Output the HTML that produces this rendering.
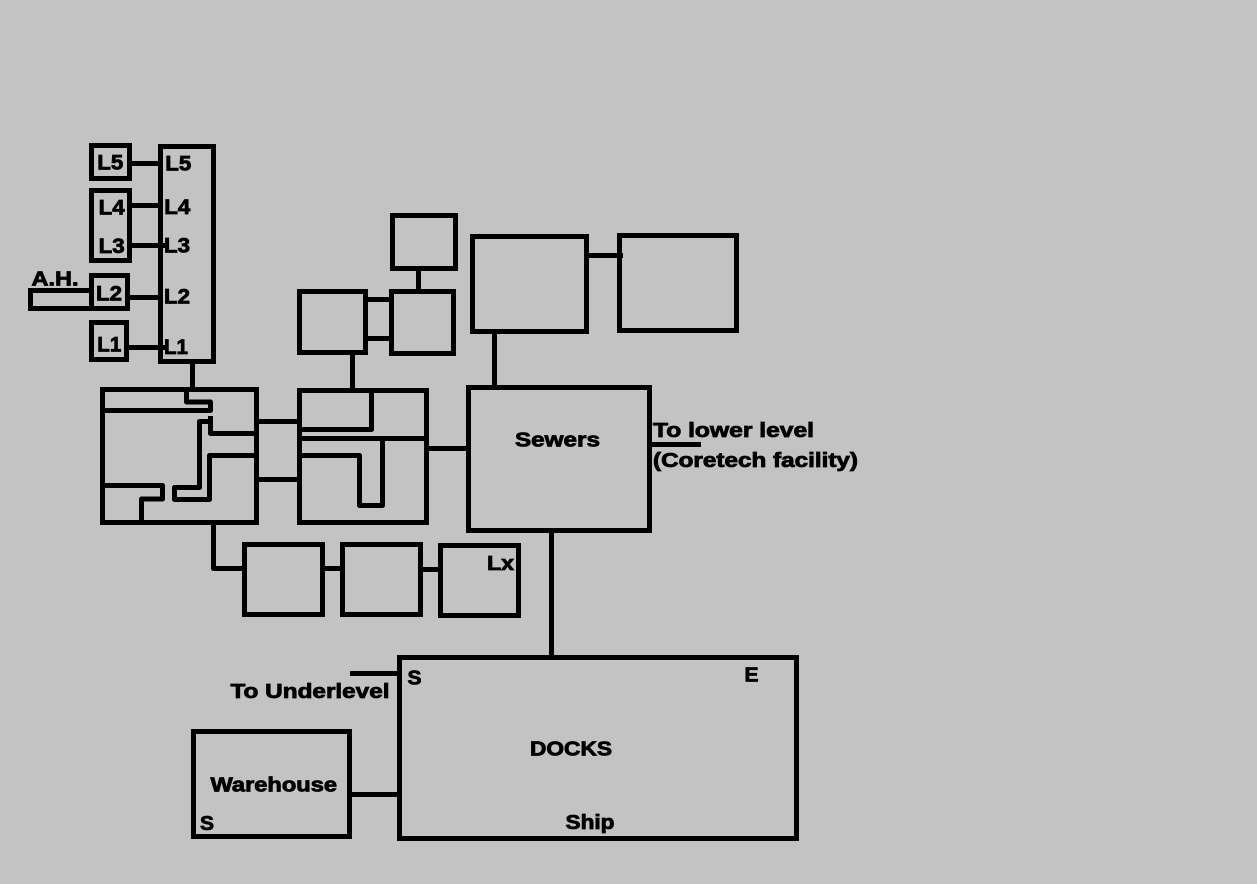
<!DOCTYPE html>
<html>
<head>
<meta charset="utf-8">
<style>
html,body{margin:0;padding:0;background:#c3c3c3;}
svg{display:block;}
rect,path{fill:none;stroke:#000;stroke-width:5;}
path{stroke-linejoin:round;}
text{font-family:"Liberation Sans",sans-serif;font-weight:bold;font-size:20px;fill:#000;stroke:#000;stroke-width:.8;}
.l{font-size:21px;}
</style>
</head>
<body>
<svg width="1257" height="884" viewBox="0 0 1257 884" xmlns="http://www.w3.org/2000/svg">
<rect x="0" y="0" width="1257" height="884" style="fill:#c3c3c3;stroke:none"/>
<!-- level stack -->
<rect x="91.5" y="145.5" width="38" height="33"/>
<rect x="91.5" y="190.5" width="38" height="70"/>
<rect x="91.5" y="275.5" width="36" height="33"/>
<rect x="30.5" y="290.5" width="61" height="18"/>
<rect x="91.5" y="322.5" width="35" height="37"/>
<rect x="160.5" y="146.5" width="53" height="215"/>
<path d="M129 163.5H160M129 205.5H160M129 245.5H165M127 297.5H160M126 347.5H165"/>
<path d="M192.5 361V389"/>
<!-- left complex -->
<rect x="102.5" y="389.5" width="154" height="133"/>
<path d="M102 410.5H210.5V402H186.5V389"/>
<path d="M210.5 416V433.5H256"/>
<path d="M210.5 421.5H199.5V487.5H174.5V499.5H209.5V455.5H256"/>
<path d="M102 485.5H162.5V499H141.5V522"/>
<!-- middle complex -->
<rect x="299.5" y="390.5" width="127" height="132"/>
<path d="M371.5 390V429.5H299"/>
<path d="M299 438.5H426"/>
<path d="M299 455.5H359.5V505.5H382.5V441"/>
<path d="M256 421.5H299M259 479.5H299"/>
<path d="M352.5 353V390"/>
<path d="M426 448.5H468"/>
<!-- upper boxes -->
<rect x="392.5" y="215.5" width="63" height="53"/>
<rect x="299.5" y="291.5" width="66" height="61"/>
<rect x="391.5" y="291.5" width="62" height="62"/>
<path d="M418.5 268V292M366 299.5H391M366 338.5H391"/>
<rect x="472.5" y="236.5" width="114" height="95"/>
<rect x="619.5" y="235.5" width="117" height="95"/>
<path d="M587 255.5H623"/>
<path d="M494.5 331V388"/>
<!-- sewers -->
<rect x="468.5" y="387.5" width="181" height="143"/>
<path d="M650 444.5H701"/>
<path d="M551.5 531V658"/>
<!-- lower row -->
<rect x="244.5" y="544.5" width="78" height="70"/>
<rect x="342.5" y="544.5" width="78" height="70"/>
<rect x="440.5" y="545.5" width="78" height="70"/>
<path d="M213.5 522V568.5H244"/>
<path d="M323 568.5H342M421 569.5H440"/>
<!-- docks -->
<rect x="399.5" y="657.5" width="397" height="181"/>
<rect x="193.5" y="731.5" width="156" height="105"/>
<path d="M350 794.5H399"/>
<path d="M350 673.5H399"/>
<!-- labels -->
<text class="l" x="97.3" y="169.6" textLength="26" lengthAdjust="spacingAndGlyphs">L5</text>
<text class="l" x="98.7" y="214.6" textLength="26" lengthAdjust="spacingAndGlyphs">L4</text>
<text class="l" x="98.7" y="252.9" textLength="26" lengthAdjust="spacingAndGlyphs">L3</text>
<text class="l" x="96" y="300.6" textLength="26" lengthAdjust="spacingAndGlyphs">L2</text>
<text class="l" x="97.3" y="351.4" textLength="24" lengthAdjust="spacingAndGlyphs">L1</text>
<text class="l" x="165.3" y="170.6" textLength="26" lengthAdjust="spacingAndGlyphs">L5</text>
<text class="l" x="164.3" y="213.9" textLength="26" lengthAdjust="spacingAndGlyphs">L4</text>
<text class="l" x="164" y="252.6" textLength="26" lengthAdjust="spacingAndGlyphs">L3</text>
<text class="l" x="164" y="303.6" textLength="26" lengthAdjust="spacingAndGlyphs">L2</text>
<text class="l" x="164" y="354.2" textLength="24" lengthAdjust="spacingAndGlyphs">L1</text>
<text x="31.5" y="285.7" textLength="47" lengthAdjust="spacingAndGlyphs">A.H.</text>
<text x="515" y="446.7" textLength="85" lengthAdjust="spacingAndGlyphs">Sewers</text>
<text x="653" y="437" textLength="161" lengthAdjust="spacingAndGlyphs">To lower level</text>
<text x="653" y="467" textLength="205" lengthAdjust="spacingAndGlyphs">(Coretech facility)</text>
<text x="487" y="570" textLength="27" lengthAdjust="spacingAndGlyphs">Lx</text>
<text x="230.5" y="698" textLength="159" lengthAdjust="spacingAndGlyphs">To Underlevel</text>
<text x="407.5" y="684.3" textLength="14" lengthAdjust="spacingAndGlyphs">S</text>
<text x="744.5" y="681.7" textLength="14" lengthAdjust="spacingAndGlyphs">E</text>
<text x="530" y="755.7" textLength="82" lengthAdjust="spacingAndGlyphs">DOCKS</text>
<text x="210.5" y="791.7" textLength="126.5" lengthAdjust="spacingAndGlyphs">Warehouse</text>
<text x="200" y="830" textLength="14" lengthAdjust="spacingAndGlyphs">S</text>
<text x="565.5" y="829" textLength="49" lengthAdjust="spacingAndGlyphs">Ship</text>
</svg>
</body>
</html>
